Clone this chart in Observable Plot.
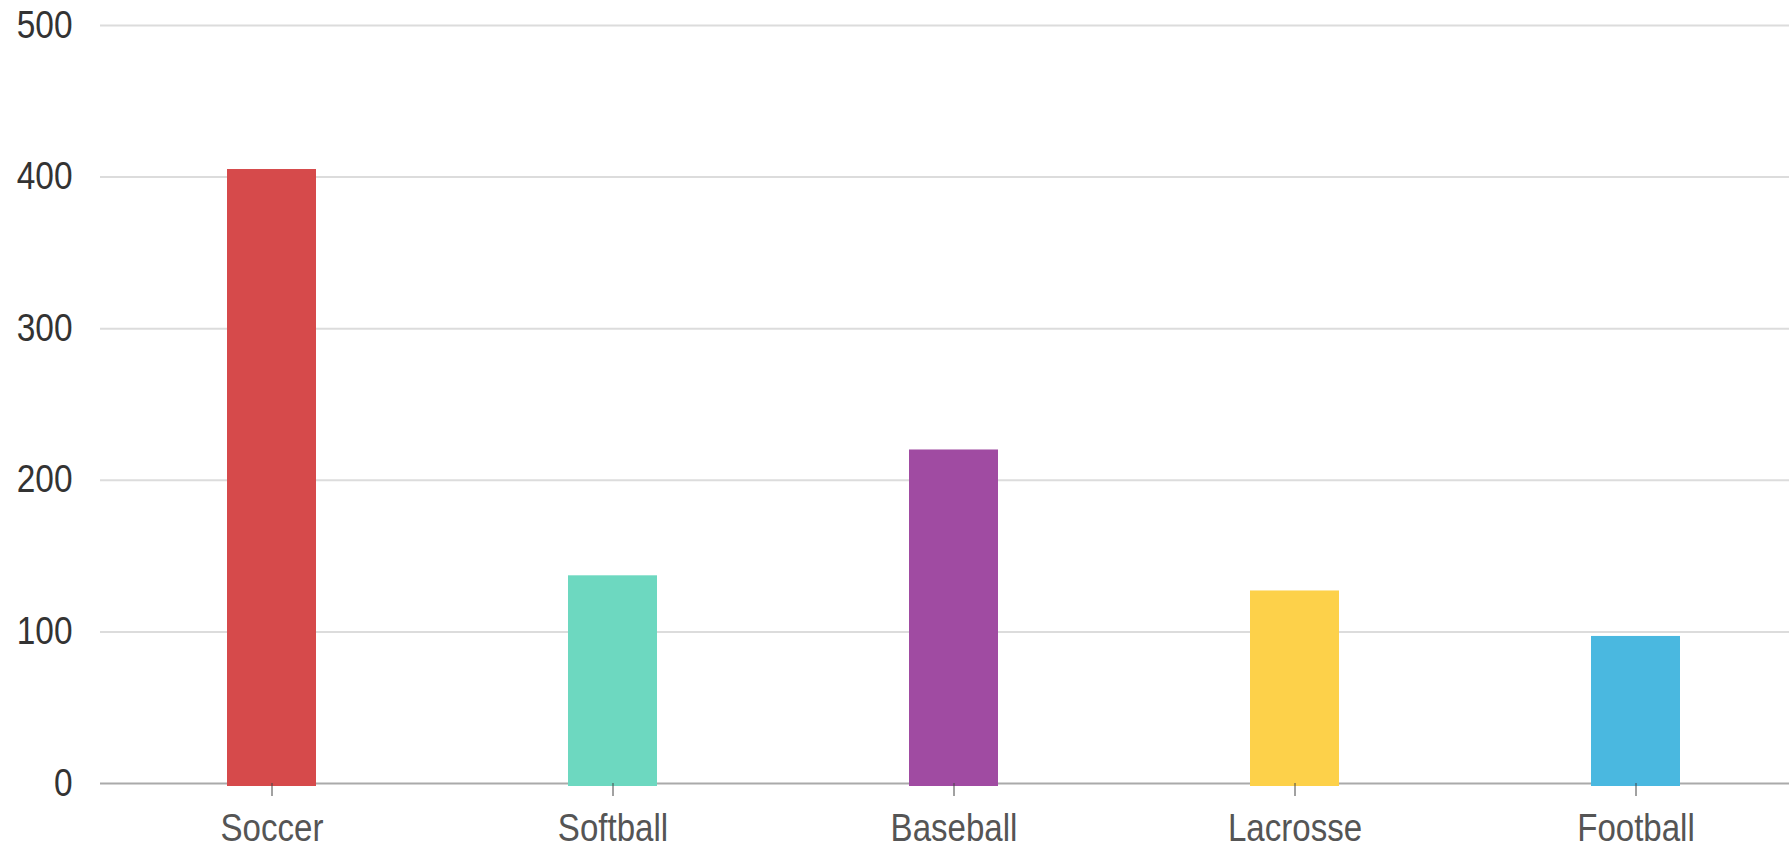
<!DOCTYPE html>
<html>
<head>
<meta charset="utf-8">
<script src="https://cdn.jsdelivr.net/npm/d3@7"></script>
<script src="https://cdn.jsdelivr.net/npm/@observablehq/plot@0.6"></script>
<style>
  html, body { margin: 0; padding: 0; background: #fff; }
  #chart svg { display: block; }
</style>
</head>
<body>
<div id="chart"></div>
<script>
const sports = ["Soccer", "Softball", "Baseball", "Lacrosse", "Football"];
const counts = [405, 137, 220, 127, 97];
const colors = ["#d64a4b", "#6dd8c0", "#a04ba2", "#fdd14a", "#4ab8e0"];
const yTicks = [0, 100, 200, 300, 400, 500];

const data = sports.map((s, i) => ({sport: s, count: counts[i]}));
const font = "'Liberation Sans Narrow', 'Arial Narrow', 'Liberation Sans', Arial, sans-serif";

const chart = Plot.plot({
  width: 1789,
  height: 849,
  marginTop: 25,
  marginBottom: 66,
  marginLeft: 100,
  marginRight: 0,
  style: {fontFamily: font, background: "#fff"},
  x: {domain: sports, range: [100, 1807], paddingInner: 0.74, paddingOuter: 0.37},
  y: {domain: [0, 500]},
  color: {domain: sports, range: colors},
  marks: [
    Plot.ruleY(yTicks.slice(1), {stroke: "#dcdcdc", strokeWidth: 2}),
    Plot.ruleY([0], {stroke: "#aaaaaa", strokeWidth: 2}),
    Plot.barY(data, {x: "sport", y: "count", fill: "sport", insetBottom: -3}),
    Plot.axisY({ticks: yTicks, tickSize: 0, tickPadding: 28, fontSize: 38, fill: "#333", label: null}),
    Plot.axisX({tickSize: 13, tickPadding: 18, fontSize: 38, fill: "#555", stroke: "#444", label: null})
  ]
});
document.getElementById("chart").appendChild(chart);

// Condense the tick label glyphs horizontally, as in the reference
function condense(selector, s) {
  d3.select(chart).selectAll(selector).each(function () {
    const len = this.getComputedTextLength();
    if (len > 0) {
      this.setAttribute("textLength", (len * s).toFixed(1));
      this.setAttribute("lengthAdjust", "spacingAndGlyphs");
    }
  });
}
condense("g[aria-label='y-axis tick label'] text", 0.88);
condense("g[aria-label='x-axis tick label'] text", 0.87);
</script>
</body>
</html>
